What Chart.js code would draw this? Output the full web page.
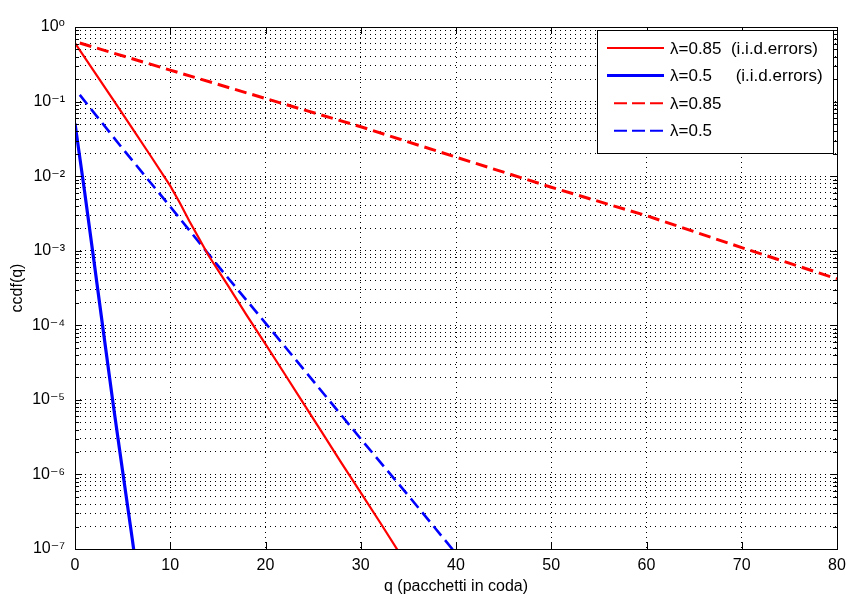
<!DOCTYPE html>
<html>
<head>
<meta charset="utf-8">
<script src="https://cdn.jsdelivr.net/npm/chart.js@4.4.1/dist/chart.umd.min.js"></script>
<style>
html,body{margin:0;padding:0;background:#ffffff;}
#wrap{width:847px;height:600px;}
</style>
</head>
<body>
<div id="wrap"><canvas id="c" width="847" height="600"></canvas></div>
<script>
// ---- data ----
const seriesLabels = ['λ=0.85  (i.i.d.errors)', 'λ=0.5     (i.i.d.errors)', 'λ=0.85', 'λ=0.5'];

const qRedIid    = [0, 2, 4, 6, 8, 10, 11, 12, 13, 14, 16, 18, 20, 22, 24, 26, 28, 30, 32, 34];
const ccdfRedIid = [0.61, 0.254, 0.106, 0.0442, 0.0182, 7.4e-3, 4.4e-3, 2.5e-3, 1.48e-3, 8.7e-4,
                    3.5e-4, 1.38e-4, 5.6e-5, 2.24e-5, 8.9e-6, 3.55e-6, 1.41e-6, 5.7e-7, 2.3e-7, 9.1e-8];

const qBlueIid    = [0, 1, 2, 3, 4, 5, 6, 7];
const ccdfBlueIid = [0.051, 6.3e-3, 7.1e-4, 7.9e-5, 8.9e-6, 1.1e-6, 1.4e-7, 1.6e-8];

const qRed    = [0.5, 10, 20, 30, 40, 50, 60, 70, 80];
const ccdfRed = [0.61, 0.264, 0.11, 0.046, 0.018, 7.1e-3, 2.95e-3, 1.1e-3, 4.2e-4];

const qBlue    = [0.5, 5, 10, 15, 20, 25, 30, 35, 40];
const ccdfBlue = [0.123, 0.0234, 3.9e-3, 6.3e-4, 1.07e-4, 1.8e-5, 3.0e-6, 5.2e-7, 8.7e-8];

const xTicks   = [0, 10, 20, 30, 40, 50, 60, 70, 80];
const yDecades = [-7, -6, -5, -4, -3, -2, -1, 0];

// ---- helpers ----
const toPoints = (xs, ys) => xs.map((x, i) => ({x: x, y: ys[i]}));
const SUP = {'-': '⁻', '0': '⁰', '1': '¹', '2': '²', '3': '³', '4': '⁴', '5': '⁵', '6': '⁶', '7': '⁷', '8': '⁸', '9': '⁹'};
const supText = (n) => String(n).split('').map(c => SUP[c]).join('');
const FONT = "'Liberation Sans', Arial, 'DejaVu Sans', sans-serif";

const yTickValues = [];
yDecades.forEach(e => {
  if (e === 0) { yTickValues.push(1); return; }
  for (let m = 1; m <= 9; m++) yTickValues.push(Number((m * Math.pow(10, e)).toPrecision(3)));
});

// box + inward ticks (MATLAB style axes)
const axesBox = {
  id: 'axesBox',
  afterDatasetsDraw(chart) {
    const {ctx, chartArea: a, scales} = chart;
    ctx.save();
    ctx.strokeStyle = '#000';
    ctx.lineWidth = 1;
    ctx.setLineDash([]);
    ctx.beginPath();
    xTicks.forEach(v => {
      const px = Math.round(scales.x.getPixelForValue(v)) + 0.5;
      ctx.moveTo(px, a.bottom); ctx.lineTo(px, a.bottom - 7);
      ctx.moveTo(px, a.top); ctx.lineTo(px, a.top + 7);
    });
    yTickValues.forEach(v => {
      const py = Math.round(scales.y.getPixelForValue(v)) + 0.5;
      const major = Math.abs(Math.log10(v) - Math.round(Math.log10(v))) < 1e-9;
      const len = major ? 7 : 4;
      ctx.moveTo(a.left, py); ctx.lineTo(a.left + len, py);
      ctx.moveTo(a.right, py); ctx.lineTo(a.right - len, py);
    });
    ctx.stroke();
    ctx.strokeRect(Math.round(a.left) + 0.5, Math.round(a.top) + 0.5,
                   Math.round(a.right - a.left), Math.round(a.bottom - a.top));
    ctx.restore();
  }
};

// legend box drawn inside the plot, from the datasets
const innerLegend = {
  id: 'innerLegend',
  afterDraw(chart) {
    const {ctx} = chart;
    const bx = 597, by = 30, bw = 236, bh = 123;
    ctx.save();
    ctx.fillStyle = '#fff';
    ctx.fillRect(bx, by, bw, bh);
    ctx.strokeStyle = '#000';
    ctx.lineWidth = 1;
    ctx.setLineDash([]);
    ctx.strokeRect(bx + 0.5, by + 0.5, bw, bh);
    ctx.font = '17px ' + FONT;
    ctx.textBaseline = 'middle';
    ctx.textAlign = 'left';
    chart.data.datasets.forEach((ds, i) => {
      const y = 48 + i * 27.6;
      ctx.strokeStyle = ds.borderColor;
      ctx.lineWidth = ds.legendWidth;
      if (ds.borderDash && ds.borderDash.length) {
        ctx.setLineDash([13, 5]);
        ctx.beginPath(); ctx.moveTo(614, y); ctx.lineTo(664, y); ctx.stroke();
      } else {
        ctx.setLineDash([]);
        ctx.beginPath(); ctx.moveTo(607, y); ctx.lineTo(664, y); ctx.stroke();
      }
      ctx.setLineDash([]);
      ctx.fillStyle = '#000';
      ctx.fillText(ds.label, 670, y + 1);
    });
    ctx.restore();
  }
};

const chart = new Chart(document.getElementById('c'), {
  type: 'line',
  data: {
    datasets: [
      {label: seriesLabels[0], data: toPoints(qRedIid, ccdfRedIid), borderColor: '#ff0000', borderWidth: 2.2, legendWidth: 2, pointRadius: 0, tension: 0},
      {label: seriesLabels[1], data: toPoints(qBlueIid, ccdfBlueIid), borderColor: '#0000ff', borderWidth: 3.2, legendWidth: 3, pointRadius: 0, tension: 0},
      {label: seriesLabels[2], data: toPoints(qRed, ccdfRed), borderColor: '#ff0000', borderWidth: 3, borderDash: [12, 6], legendWidth: 2, pointRadius: 0, tension: 0},
      {label: seriesLabels[3], data: toPoints(qBlue, ccdfBlue), borderColor: '#0000ff', borderWidth: 2.6, borderDash: [12, 6], legendWidth: 2, pointRadius: 0, tension: 0}
    ]
  },
  options: {
    responsive: false,
    animation: false,
    devicePixelRatio: 1,
    layout: {padding: {left: 0, top: 27, right: 10, bottom: 0}},
    plugins: {legend: {display: false}, tooltip: {enabled: false}},
    scales: {
      x: {
        type: 'linear', min: 0, max: 80,
        afterBuildTicks(s) { s.ticks = xTicks.map(v => ({value: v})); },
        afterFit(s) { s.height = 51; },
        ticks: {color: '#000', font: {family: FONT, size: 16}, padding: 1, maxRotation: 0, autoSkip: false},
        grid: {color: '#000', lineWidth: 1, drawTicks: true, tickLength: 6, tickColor: 'rgba(0,0,0,0)'},
        border: {display: false, dash: [1, 4]},
        title: {display: true, text: 'q (pacchetti in coda)', color: '#000', font: {family: FONT, size: 16}, padding: {top: 0, bottom: 4}}
      },
      y: {
        type: 'logarithmic', min: 1e-7, max: 1,
        afterBuildTicks(s) { s.ticks = yTickValues.map(v => ({value: v})); },
        afterFit(s) { s.width = 75; },
        ticks: {
          color: '#000', font: {family: FONT, size: 16}, padding: 10, autoSkip: false,
          callback: (v) => {
            const e = Math.log10(v);
            return Math.abs(e - Math.round(e)) < 1e-9 ? '10' + supText(Math.round(e)) : '';
          }
        },
        grid: {color: '#000', lineWidth: 1, drawTicks: false},
        border: {display: false, dash: [1, 4]},
        title: {display: true, text: 'ccdf(q)', color: '#000', font: {family: FONT, size: 16}, padding: {top: 8, bottom: 0}}
      }
    }
  },
  plugins: [axesBox, innerLegend]
});
</script>
</body>
</html>
